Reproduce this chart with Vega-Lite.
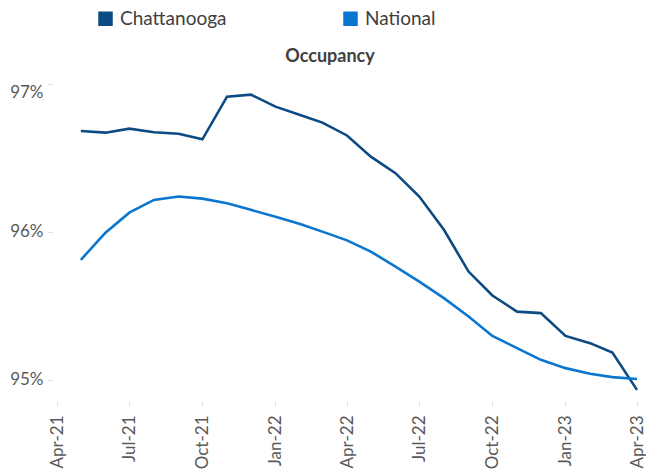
{
  "$schema": "https://vega.github.io/schema/vega-lite/v6.json",
  "width": 580,
  "height": 318,
  "autosize": {"type": "none"},
  "padding": {"left": 57, "top": 84, "right": 9, "bottom": 73},
  "background": "white",
  "config": {
    "view": {"stroke": null},
    "font": "Lato",
    "axis": {"grid": false, "domain": false, "labelColor": "#595959", "labelFont": "Lato", "tickColor": "#d9d9d9"}
  },
  "title": {
    "text": "Occupancy",
    "fontSize": 18,
    "fontWeight": "bold",
    "color": "#404040",
    "font": "Lato",
    "anchor": "middle",
    "dx": -17,
    "offset": -57
  },
  "data": {
    "values": [
      {"month": "2021-05-01T00:00", "series": "Chattanooga", "value": 96.682},
      {"month": "2021-06-01T00:00", "series": "Chattanooga", "value": 96.671},
      {"month": "2021-07-01T00:00", "series": "Chattanooga", "value": 96.698},
      {"month": "2021-08-01T00:00", "series": "Chattanooga", "value": 96.674},
      {"month": "2021-09-01T00:00", "series": "Chattanooga", "value": 96.664},
      {"month": "2021-10-01T00:00", "series": "Chattanooga", "value": 96.626},
      {"month": "2021-11-01T00:00", "series": "Chattanooga", "value": 96.914},
      {"month": "2021-12-01T00:00", "series": "Chattanooga", "value": 96.928},
      {"month": "2022-01-01T00:00", "series": "Chattanooga", "value": 96.847},
      {"month": "2022-02-01T00:00", "series": "Chattanooga", "value": 96.791},
      {"month": "2022-03-01T00:00", "series": "Chattanooga", "value": 96.739},
      {"month": "2022-04-01T00:00", "series": "Chattanooga", "value": 96.652},
      {"month": "2022-05-01T00:00", "series": "Chattanooga", "value": 96.509},
      {"month": "2022-06-01T00:00", "series": "Chattanooga", "value": 96.397},
      {"month": "2022-07-01T00:00", "series": "Chattanooga", "value": 96.239},
      {"month": "2022-08-01T00:00", "series": "Chattanooga", "value": 96.014},
      {"month": "2022-09-01T00:00", "series": "Chattanooga", "value": 95.732},
      {"month": "2022-10-01T00:00", "series": "Chattanooga", "value": 95.570},
      {"month": "2022-11-01T00:00", "series": "Chattanooga", "value": 95.461},
      {"month": "2022-12-01T00:00", "series": "Chattanooga", "value": 95.451},
      {"month": "2023-01-01T00:00", "series": "Chattanooga", "value": 95.297},
      {"month": "2023-02-01T00:00", "series": "Chattanooga", "value": 95.248},
      {"month": "2023-03-01T00:00", "series": "Chattanooga", "value": 95.184},
      {"month": "2023-04-01T00:00", "series": "Chattanooga", "value": 94.932},
      {"month": "2021-05-01T00:00", "series": "National", "value": 95.811},
      {"month": "2021-06-01T00:00", "series": "National", "value": 95.995},
      {"month": "2021-07-01T00:00", "series": "National", "value": 96.130},
      {"month": "2021-08-01T00:00", "series": "National", "value": 96.216},
      {"month": "2021-09-01T00:00", "series": "National", "value": 96.239},
      {"month": "2021-10-01T00:00", "series": "National", "value": 96.225},
      {"month": "2021-11-01T00:00", "series": "National", "value": 96.194},
      {"month": "2021-12-01T00:00", "series": "National", "value": 96.149},
      {"month": "2022-01-01T00:00", "series": "National", "value": 96.103},
      {"month": "2022-02-01T00:00", "series": "National", "value": 96.054},
      {"month": "2022-03-01T00:00", "series": "National", "value": 96.002},
      {"month": "2022-04-01T00:00", "series": "National", "value": 95.943},
      {"month": "2022-05-01T00:00", "series": "National", "value": 95.867},
      {"month": "2022-06-01T00:00", "series": "National", "value": 95.766},
      {"month": "2022-07-01T00:00", "series": "National", "value": 95.664},
      {"month": "2022-08-01T00:00", "series": "National", "value": 95.552},
      {"month": "2022-09-01T00:00", "series": "National", "value": 95.428},
      {"month": "2022-10-01T00:00", "series": "National", "value": 95.297},
      {"month": "2022-11-01T00:00", "series": "National", "value": 95.214},
      {"month": "2022-12-01T00:00", "series": "National", "value": 95.135},
      {"month": "2023-01-01T00:00", "series": "National", "value": 95.079},
      {"month": "2023-02-01T00:00", "series": "National", "value": 95.041},
      {"month": "2023-03-01T00:00", "series": "National", "value": 95.018},
      {"month": "2023-04-01T00:00", "series": "National", "value": 95.005}
    ]
  },
  "mark": {"type": "line", "strokeWidth": 2.6, "strokeJoin": "miter", "clip": false},
  "encoding": {
    "x": {
      "field": "month",
      "type": "temporal",
      "title": null,
      "scale": {"domain": [{"year": 2021, "month": 4, "date": 1}, {"year": 2023, "month": 4, "date": 1}]},
      "axis": {
        "values": [
          {"year": 2021, "month": 4, "date": 1}, {"year": 2021, "month": 7, "date": 1},
          {"year": 2021, "month": 10, "date": 1}, {"year": 2022, "month": 1, "date": 1},
          {"year": 2022, "month": 4, "date": 1}, {"year": 2022, "month": 7, "date": 1},
          {"year": 2022, "month": 10, "date": 1}, {"year": 2023, "month": 1, "date": 1},
          {"year": 2023, "month": 4, "date": 1}
        ],
        "format": "%b-%y",
        "labelAngle": -90,
        "labelFontSize": 17,
        "labelPadding": 9,
        "tickSize": 4,
        "labelFlush": true
      }
    },
    "y": {
      "field": "value",
      "type": "quantitative",
      "title": null,
      "scale": {"domain": [94.85, 97], "zero": false, "nice": false},
      "axis": {
        "values": [95, 96, 97],
        "labelExpr": "datum.value + '%'",
        "labelFontSize": 17,
        "tickSize": 4,
        "offset": 5,
        "labelPadding": 5,
        "labelFlush": true
      }
    },
    "color": {
      "field": "series",
      "type": "nominal",
      "scale": {"domain": ["Chattanooga", "National"], "range": ["#0B4A82", "#0A76D0"]},
      "legend": {
        "title": null,
        "orient": "none",
        "direction": "horizontal",
        "legendX": 39,
        "legendY": -75,
        "symbolType": "square",
        "symbolSize": 210,
        "symbolStrokeWidth": 0,
        "symbolOpacity": 1,
        "labelFontSize": 19,
        "labelColor": "#404040",
        "labelFont": "Lato",
        "labelOffset": 5,
        "columnPadding": 114,
        "encode": {
          "symbols": {
            "update": {
              "fill": {"scale": "color", "field": "value"},
              "fillOpacity": {"value": 1},
              "strokeWidth": {"value": 0}
            }
          }
        }
      }
    }
  }
}
